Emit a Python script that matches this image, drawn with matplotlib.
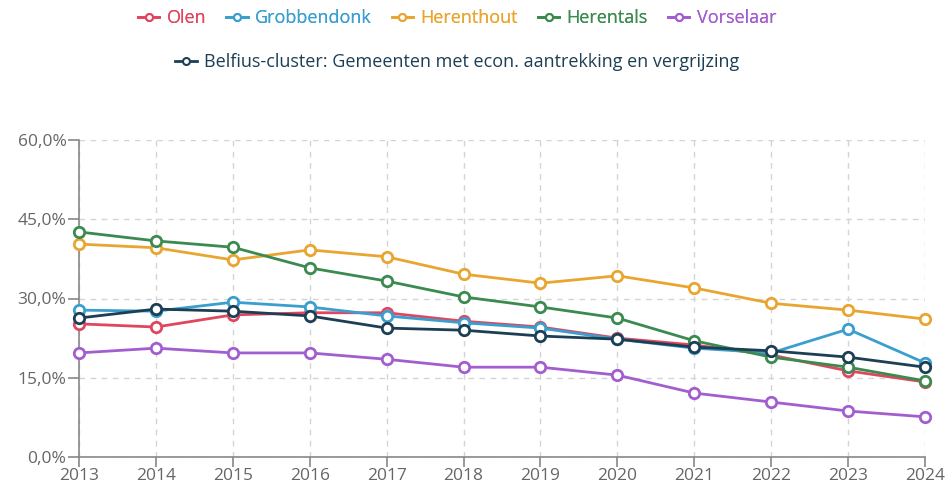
import matplotlib.pyplot as plt
from matplotlib.lines import Line2D
from matplotlib.ticker import FuncFormatter

years = [2013, 2014, 2015, 2016, 2017, 2018, 2019, 2020, 2021, 2022, 2023, 2024]

olen = [25.2, 24.6, 26.9, 27.3, 27.3, 25.7, 24.6, 22.5, 21.2, 19.3, 16.3, 14.2]
grobbendonk = [27.8, 27.6, 29.3, 28.4, 26.7, 25.4, 24.4, 22.3, 20.6, 19.7, 24.2, 17.8]
herenthout = [40.3, 39.6, 37.3, 39.2, 37.9, 34.6, 32.9, 34.3, 32.0, 29.1, 27.8, 26.1]
herentals = [42.6, 40.9, 39.7, 35.8, 33.3, 30.3, 28.4, 26.3, 22.0, 18.9, 17.0, 14.4]
vorselaar = [19.7, 20.6, 19.7, 19.7, 18.5, 17.0, 17.0, 15.5, 12.1, 10.4, 8.7, 7.6]
belfius = [26.3, 28.0, 27.6, 26.7, 24.4, 24.0, 22.9, 22.3, 20.8, 20.1, 18.9, 17.0]

series = [
    ("Olen", olen, "#e0475f"),
    ("Grobbendonk", grobbendonk, "#3a9fcf"),
    ("Herenthout", herenthout, "#e8a630"),
    ("Herentals", herentals, "#3b8a4f"),
    ("Vorselaar", vorselaar, "#a25ecf"),
    ("Belfius-cluster: Gemeenten met econ. aantrekking en vergrijzing", belfius, "#1d3f55"),
]

plt.rcParams['font.family'] = ['Open Sans', 'DejaVu Sans']

fig = plt.figure(figsize=(9.52, 4.88), dpi=100)
ax = fig.add_axes([79 / 952, 1 - 457 / 488, (925 - 79) / 952, (457 - 140) / 488])

order = [4, 2, 3, 0, 1, 5]
for i in order:
    name, vals, col = series[i]
    ax.plot(years, vals, color=col, lw=2, marker="o", markersize=7.5,
            markerfacecolor="white", markeredgewidth=2, zorder=3 + i, clip_on=False)

ax.set_xlim(2013, 2024)
ax.set_ylim(0, 60)
ax.set_xticks(years)
ax.set_yticks([0, 15, 30, 45, 60])
ax.yaxis.set_major_formatter(FuncFormatter(lambda v, p: f"{v:.1f}%".replace(".", ",")))
ax.grid(True, ls=(0, (4, 4)), color="#d4d4d4", lw=1)
for s in ["top", "right"]:
    ax.spines[s].set_visible(False)
for s in ["left", "bottom"]:
    ax.spines[s].set_color("#888888")
    ax.spines[s].set_linewidth(1.2)
ax.tick_params(axis="both", colors="#888888", labelcolor="#666666", labelsize=12.5,
               length=7, width=1.2, pad=1)
ax.tick_params(axis="y", length=8)

handles = [Line2D([], [], color=c, lw=2, marker="o", markersize=5, markerfacecolor="white",
                  markeredgewidth=1.5) for _, _, c in series]
labels = [n for n, _, _ in series]
leg1 = fig.legend(handles[:5], labels[:5], loc="center", bbox_to_anchor=(0.48, 1 - 18 / 488),
                  ncol=5, frameon=False, handlelength=1.2, handletextpad=0.4, columnspacing=1.1,
                  fontsize=13, labelcolor=[c for _, _, c in series[:5]])
leg2 = fig.legend(handles[5:], labels[5:], loc="center", bbox_to_anchor=(0.48, 1 - 62 / 488),
                  frameon=False, handlelength=1.2, handletextpad=0.4, fontsize=13,
                  labelcolor=[series[5][2]])
fig.add_artist(leg1)

fig.savefig("out.png", dpi=100)
